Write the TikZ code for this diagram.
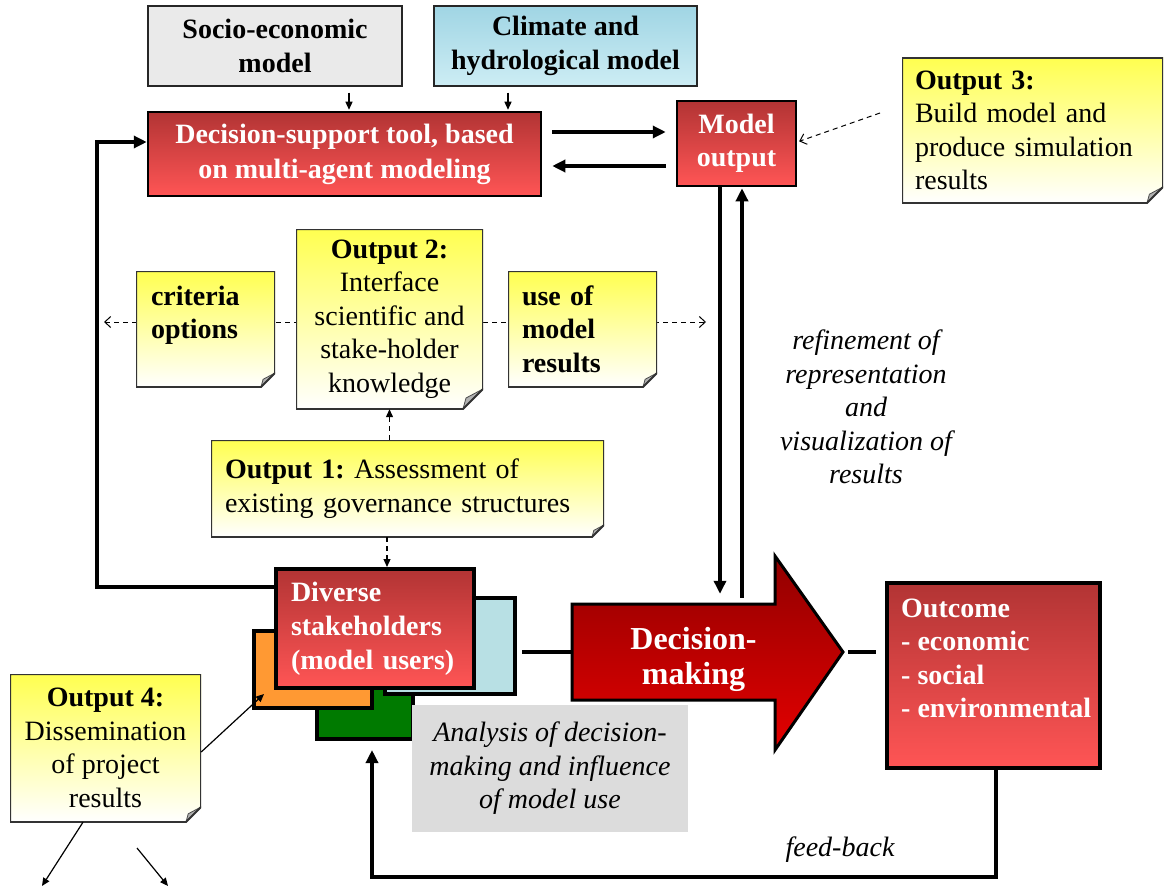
\documentclass[tikz,border=0pt]{standalone}
\usepackage{fontspec}
\setmainfont{Liberation Serif}
\usetikzlibrary{arrows.meta,calc}
\definecolor{noteY}{RGB}{255,255,80}
\definecolor{rtop}{RGB}{178,52,52}
\definecolor{rbot}{RGB}{255,85,85}
\definecolor{dmtop}{RGB}{145,0,0}
\definecolor{dmmid}{RGB}{255,0,0}
\definecolor{dmbot}{RGB}{228,0,0}
\definecolor{cltop}{RGB}{160,213,228}
\definecolor{clbot}{RGB}{205,237,244}
\definecolor{sociog}{RGB}{234,234,234}
\definecolor{anag}{RGB}{220,220,220}
\definecolor{shorange}{RGB}{255,153,51}
\definecolor{shgreen}{RGB}{0,122,0}
\definecolor{shblue}{RGB}{184,224,228}
\newcommand{\fs}{\fontsize{28}{33.5}\selectfont\frenchspacing}
\tikzset{
  note/.style={top color=noteY, bottom color=white, draw=none, inner sep=0pt, font=\fs,
    path picture={
      \fill[white] ([xshift=-#1pt]path picture bounding box.south east) -- (path picture bounding box.south east) -- ([yshift=#1pt]path picture bounding box.south east) -- cycle;
      \filldraw[fill=black!30, draw=black!70, line width=0.8pt] ([xshift=-#1pt]path picture bounding box.south east) -- ([yshift=#1pt]path picture bounding box.south east) -- ([xshift=-0.85*#1pt, yshift=0.55*#1pt]path picture bounding box.south east) -- cycle;
      \draw[black!80, line width=2pt, line join=miter] (path picture bounding box.north west) -- (path picture bounding box.north east) -- ([yshift=#1pt]path picture bounding box.south east) -- ([xshift=-#1pt]path picture bounding box.south east) -- (path picture bounding box.south west) -- cycle;
    }},
  note/.default=15,
  redbox/.style={draw=black, line width=2.5pt, top color=rtop, bottom color=rbot, text=white, font=\bfseries\fs, align=center, inner sep=0pt},
  topbox/.style={draw=black!85, line width=1.5pt, font=\bfseries\fs, align=center, inner sep=0pt},
  shbox/.style={draw=black, line width=4pt, inner sep=0pt},
  thickline/.style={line width=3.5pt},
  thickarr/.style={line width=3.5pt, -{Triangle[length=13pt,width=12pt]}},
  thinarr/.style={line width=1.2pt, -{Triangle[length=8pt,width=7pt]}},
  dasharr/.style={line width=1pt, dash pattern=on 5pt off 4pt, -{Straight Barb[length=6pt,width=11pt]}},
}
\begin{document}
\begin{tikzpicture}[x=1pt,y=-1pt]
\useasboundingbox (0,0) rectangle (1165,888);

% dashed line behind the notes
\coordinate (dl) at (104,322);
\coordinate (dr) at (706,322);
\draw[line width=1pt, dash pattern=on 5pt off 4pt, {Straight Barb[length=6pt,width=11pt]}-{Straight Barb[length=6pt,width=11pt]}] (dl) -- (dr);

% top model boxes
\node[topbox, fill=sociog, minimum width=254pt, minimum height=80pt] (socio) at (275,46) {Socio-economic\\model};
\node[topbox, top color=cltop, bottom color=clbot, minimum width=263pt, minimum height=80pt] (clim) at (565.5,46) {Climate and\\hydrological model};

\node[redbox, minimum width=393pt, minimum height=84pt, font=\bfseries\fontsize{28}{35}\selectfont] (dst) at (344.5,154) {Decision-support tool, based\\on multi-agent modeling};
\node[redbox, minimum width=119pt, minimum height=85pt] (mo) at (736.5,143.5) {Model\\output};

% notes
\node[note=16, minimum width=261pt, minimum height=145pt, text width=235pt, align=left] (o3) at (1032.5,130.5) {\textbf{Output 3:}\\Build model and\\produce simulation\\results};
\node[note=20, minimum width=187pt, minimum height=180pt, align=center] (o2) at (389.5,319) {\textbf{Output 2:}\\Interface\\scientific and\\stake-holder\\knowledge};
\node[note=14, minimum width=139pt, minimum height=116pt, text width=109pt, align=left, font=\bfseries\fs] (crit) at (205.5,329) {criteria\\options\\~};
\node[note=14, minimum width=149pt, minimum height=116pt, text width=121pt, align=left, font=\bfseries\fs] (use) at (582.5,329) {use of\\model\\results};
\node[note=12, minimum width=393pt, minimum height=97pt, text width=365pt, align=left] (o1) at (407.5,488.5) {\textbf{Output 1:} Assessment of\\existing governance structures};
\node[note=15, minimum width=191pt, minimum height=148pt, align=center] (o4) at (105.5,748) {\textbf{Output 4:}\\Dissemination\\of project\\results};

% stakeholders stack
\node[shbox, fill=shgreen, minimum width=96pt, minimum height=79pt] (shg) at (365,699.5) {};
\node[shbox, fill=shorange, minimum width=118pt, minimum height=77pt] (sho) at (313,669.5) {};
\node[shbox, fill=shblue, minimum width=130pt, minimum height=96pt] (shb) at (450,646) {};
\node[redbox, line width=4pt, minimum width=198pt, minimum height=119pt, text width=168pt, align=left, font=\bfseries\fontsize{28}{34}\selectfont] (sh) at (375,628.5) {Diverse\\stakeholders\\(model users)};

% analysis box
\node[fill=anag, minimum width=276pt, minimum height=127pt, inner sep=0pt, font=\itshape\fs, align=center] (ana) at (550,768.5) {Analysis of decision-\\making and influence\\of model use};

% decision-making arrow
\coordinate (dmtip) at (843,652);
\path[draw=black, line width=3pt, line join=miter, top color=dmtop, middle color=dmmid, bottom color=dmbot]
  (572,604) -- (775,604) -- (775,556) -- (dmtip) -- (775,750) -- (775,700) -- (572,700) -- cycle;
\node[minimum width=243pt, minimum height=96pt, inner sep=0pt, text=white, font=\bfseries\fontsize{32}{35}\selectfont, align=center] (dm) at (693.5,652) {};
\node[text=white, font=\bfseries\fontsize{32}{35}\selectfont, align=center, inner sep=0pt] (dmtext) at (693.5,659) {Decision-\\making};

% outcome
\node[redbox, line width=4pt, minimum width=213pt, minimum height=185pt] (out) at (993.5,675.5) {};
\node[anchor=west, text=white, font=\bfseries\fs, align=left, inner sep=0pt] (outtxt) at ([xshift=16pt, yshift=17pt]out.west) {Outcome\\- economic\\- social\\- environmental};

% labels
\node[font=\itshape\fs, align=center, inner sep=0pt] (refine) at (866,407) {refinement of\\representation\\and\\visualization of\\results};
\node[font=\itshape\fs, inner sep=0pt] (fbl) at (840,850) {feed-back};

% connectors
\draw[thinarr, shorten <=6pt, shorten >=1pt] (349,0 |- socio.south) -- (349,0 |- dst.north);
\draw[thinarr, shorten <=6pt, shorten >=1pt] (508,0 |- clim.south) -- (508,0 |- dst.north);
\draw[thickarr, shorten <=10pt, shorten >=10pt] (dst.east |- 0,132) -- (mo.west |- 0,132);
\draw[thickarr, shorten <=10pt, shorten >=10pt] (mo.west |- 0,166) -- (dst.east |- 0,166);
\coordinate (o3a) at (880,113);
\draw[dasharr, shorten >=2pt] (o3a) -- (mo.east |- 0,142);
\draw[thickarr, shorten >=10pt] (720,0 |- mo.south) -- (720,0 |- dm.north);
\draw[thickarr, shorten <=6pt, shorten >=1pt] (742,0 |- dm.north) -- (742,0 |- mo.south);
\draw[thickarr, line join=miter] (sh.west |- 0,587) -- (97,587) -- (97,142) -- (dst.west |- 0,142);
\draw[line width=1.2pt, dash pattern=on 5pt off 4pt, -{Triangle[length=8pt,width=7pt]}] (o2.south |- o1.north) -- (o2.south);
\draw[line width=1.2pt, dash pattern=on 5pt off 4pt, -{Triangle[length=8pt,width=7pt]}] (387,0 |- o1.south) -- (387,0 |- sh.north);
\draw[thickline, shorten <=5pt] (shb.east |- dm.west) -- (dm.west);
\draw[thickline, shorten <=5pt, shorten >=9pt] (dmtip) -- (out.west |- dmtip);
\coordinate (fbend) at (372,750);
\draw[thickarr, line join=miter] (996,0 |- out.south) -- (996,877) -- (372,877) -- (fbend);
\coordinate (d1) at (264,694);
\coordinate (d2) at (42,886);
\coordinate (d3a) at (137,848);
\coordinate (d3) at (168,886);
\draw[thinarr] (o4.east |- 0,752) -- (d1);
\draw[thinarr] (83,0 |- o4.south) -- (d2);
\draw[thinarr] (d3a) -- (d3);
\end{tikzpicture}
\end{document}
